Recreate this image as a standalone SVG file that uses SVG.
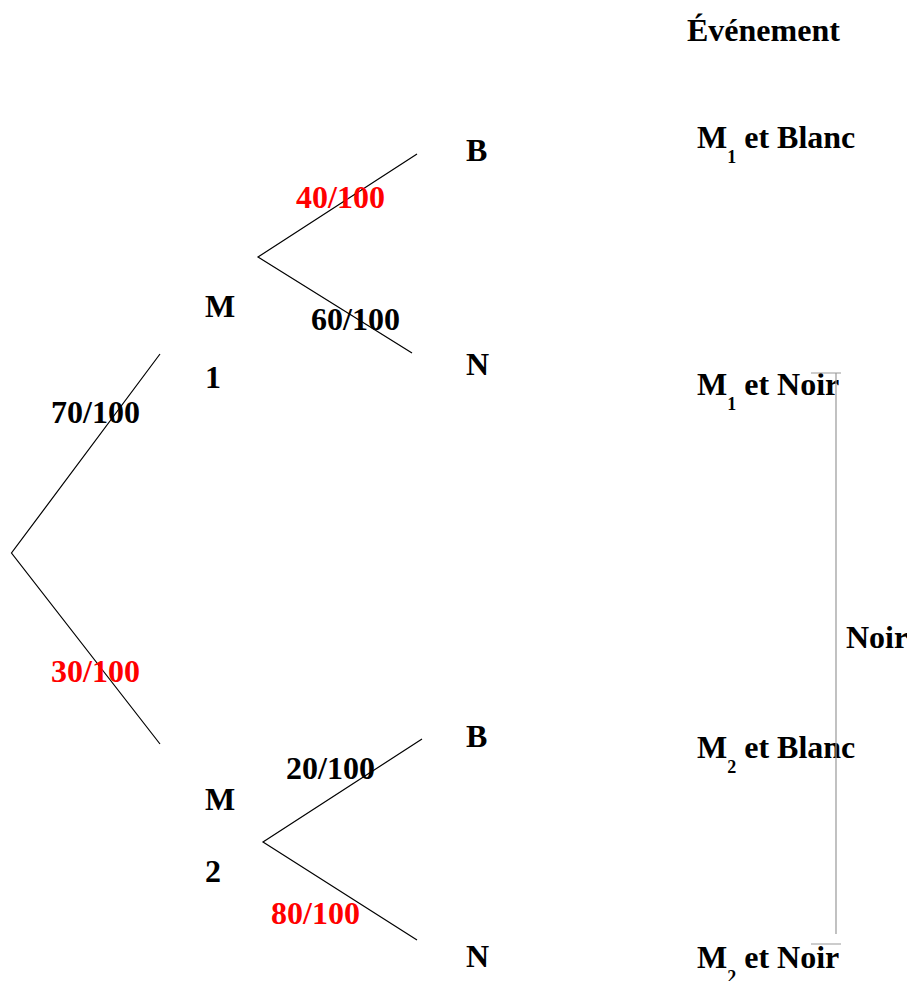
<svg xmlns="http://www.w3.org/2000/svg" width="907" height="981" viewBox="0 0 907 981">
  <style>
    text { font-family: "Liberation Serif", "Times New Roman", serif; font-weight: bold; font-size: 32px; fill: #000; }
    .red { fill: #ff0000; }
    .sub { font-size: 18px; }
    .edge { stroke: #000; stroke-width: 1.2; fill: none; }
    .brace { stroke: #999; stroke-width: 1.2; fill: none; }
  </style>
  <rect width="907" height="981" fill="#fff"/>

  <!-- tree branches -->
  <g id="connectors">
    <polyline class="edge" points="160,354 11.5,553 160,744"/>
    <polyline class="edge" points="417,154 258,257 412,353"/>
    <polyline class="edge" points="422,739 263,842 417,940"/>
  </g>

  <!-- branch probabilities -->
  <g id="probabilities">
    <text x="51" y="423">70/100</text>
    <text x="51" y="682" class="red">30/100</text>
    <text x="296" y="208" class="red">40/100</text>
    <text x="311" y="330">60/100</text>
    <text x="286" y="779">20/100</text>
    <text x="271" y="924" class="red">80/100</text>
  </g>

  <g id="node-m1">
    <text x="205" y="317">M</text>
    <text x="205" y="388">1</text>
  </g>
  <g id="node-m2">
    <text x="205" y="810">M</text>
    <text x="205" y="882">2</text>
  </g>
  <g id="node-b1"><text x="466" y="161">B</text></g>
  <g id="node-n1"><text x="466" y="375">N</text></g>
  <g id="node-b2"><text x="466" y="747">B</text></g>
  <g id="node-n2"><text x="466" y="967">N</text></g>

  <!-- outcome column -->
  <g id="events">
    <text x="687" y="41">Événement</text>
    <text x="697" y="148">M<tspan class="sub" dy="15">1</tspan><tspan dy="-15"> et Blanc</tspan></text>
    <text x="697" y="395">M<tspan class="sub" dy="15">1</tspan><tspan dy="-15"> et Noir</tspan></text>
    <text x="697" y="758">M<tspan class="sub" dy="15">2</tspan><tspan dy="-15"> et Blanc</tspan></text>
    <text x="697" y="968">M<tspan class="sub" dy="15">2</tspan><tspan dy="-15"> et Noir</tspan></text>
  </g>

  <!-- bracket grouping the black outcomes -->
  <g id="noir-bracket">
    <path class="brace" d="M811,373 H841 M836,373 V934 M811,944 H841"/>
    <text x="846" y="648">Noir</text>
  </g>
</svg>
